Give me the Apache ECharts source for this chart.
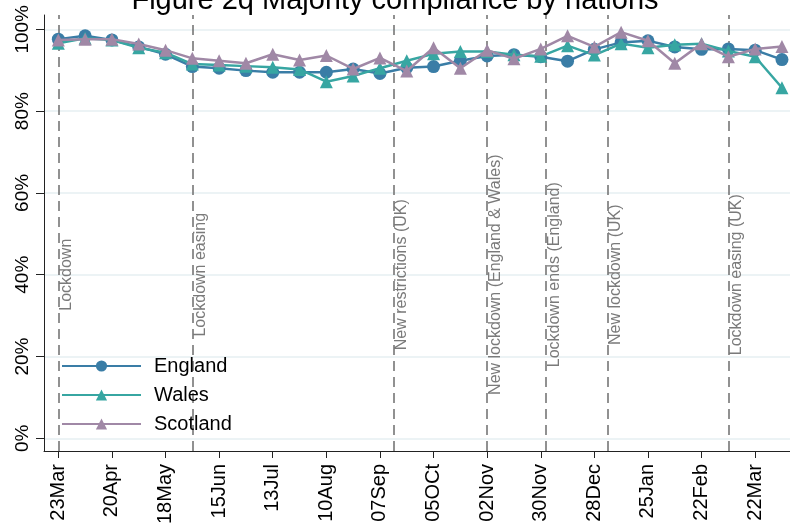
<!DOCTYPE html>
<html>
<head>
<meta charset="utf-8">
<title>Figure 2q Majority compliance by nations</title>
<script src="https://cdn.jsdelivr.net/npm/echarts@6/dist/echarts.min.js"></script>
<style>
html, body { margin: 0; padding: 0; background: #fff; }
#chart { width: 790px; height: 529px; }
</style>
</head>
<body>
<div id="chart"></div>
<script>
// x = weeks since 23 March 2020, one survey wave every two weeks
var weeks = [0, 2, 4, 6, 8, 10, 12, 14, 16, 18, 20, 22, 24, 26, 28, 30, 32, 34, 36, 38, 40, 42, 44, 46, 48, 50, 52, 54];
var england = [97.6, 98.4, 97.4, 95.7, 93.9, 90.9, 90.5, 89.9, 89.5, 89.5, 89.5, 90.3, 89.2, 90.6, 90.9, 92.3, 93.5, 93.8, 93.3, 92.2, 95.1, 96.8, 97.2, 95.7, 95.1, 95.2, 94.9, 92.6];
var wales = [96.6, 97.8, 97.4, 95.5, 94.3, 91.5, 91.3, 91.0, 90.7, 90.2, 87.2, 88.6, 90.5, 92.3, 94.0, 94.6, 94.6, 93.8, 93.4, 96.0, 93.7, 96.5, 95.5, 96.2, 96.5, 94.7, 93.3, 85.7];
var scotland = [97.4, 97.6, 97.6, 96.4, 94.9, 92.9, 92.3, 91.7, 93.9, 92.5, 93.6, 90.3, 93.0, 89.8, 95.5, 90.5, 94.9, 92.8, 95.2, 98.4, 95.7, 99.3, 97.2, 91.7, 96.5, 93.3, 95.2, 95.8];

// axis ticks
var tickWeeks = [0, 4, 8, 12, 16, 20, 24, 28, 32, 36, 40, 44, 48, 52];
var tickLabels = ['23Mar', '20Apr', '18May', '15Jun', '13Jul', '10Aug', '07Sep', '05OCt', '02Nov', '30Nov', '28Dec', '25Jan', '22Feb', '22Mar'];
var yTicks = [0, 20, 40, 60, 80, 100];

// policy events (vertical dashed lines), text centred at 40%
var eventWeeks = [0, 10, 25, 32, 36.4, 41, 50];
var eventNames = ['Lockdown', 'Lockdown easing', 'New restrictions (UK)', 'New lockdown (England & Wales)', 'Lockdown ends (England)', 'New lockdown (UK)', 'Lockdown easing (UK)'];
var eventLabelY = 40;

var font = '"Liberation Sans", Arial, sans-serif';

function pairs(ys) {
    return weeks.map(function (w, i) { return [w, ys[i]]; });
}

var chart = echarts.init(document.getElementById('chart'));

var option = {
    animation: false,
    title: {
        text: 'Figure 2q Majority compliance by nations',
        left: 'center',
        top: -19,
        textStyle: { fontFamily: font, fontSize: 29, fontWeight: 'normal', color: '#000' }
    },
    grid: { left: 44, right: 0, top: 15, bottom: 78 },
    legend: {
        orient: 'vertical',
        left: 61,
        top: 356,
        padding: 0,
        itemWidth: 79,
        itemHeight: 14,
        itemGap: 9,
        data: ['England', 'Wales', 'Scotland'],
        textStyle: { fontFamily: font, fontSize: 20, color: '#000', padding: [0, 0, 0, 8] }
    },
    xAxis: {
        type: 'value',
        min: -1.07,
        max: 54.6,
        splitLine: { show: false },
        axisLine: { onZero: false, lineStyle: { color: '#222', width: 1 } },
        axisTick: { customValues: tickWeeks, length: 7, lineStyle: { color: '#222' } },
        axisLabel: {
            customValues: tickWeeks,
            rotate: 90,
            margin: 13,
            fontFamily: font,
            fontSize: 20,
            color: '#000',
            formatter: function (v) { return tickLabels[tickWeeks.indexOf(v)]; }
        }
    },
    yAxis: {
        type: 'value',
        min: -3.1,
        max: 103.5,
        splitLine: { show: false },
        axisLine: { show: true, onZero: false, lineStyle: { color: '#222', width: 1 } },
        axisTick: { show: true, customValues: yTicks, length: 8, lineStyle: { color: '#222' } },
        axisLabel: {
            customValues: yTicks,
            rotate: 90,
            margin: 12,
            fontFamily: font,
            fontSize: 19,
            color: '#000',
            formatter: function (v) { return v + '%'; }
        }
    },
    series: [
        {
            name: 'England',
            type: 'line',
            data: pairs(england),
            symbol: 'circle',
            symbolSize: 13,
            color: '#3a7da6',
            lineStyle: { width: 2.5 },
            z: 3,
            markLine: {
                silent: true,
                z: 1,
                symbol: 'none',
                label: { show: false },
                lineStyle: { color: '#6e6e6e', type: [10, 6], width: 1.5 },
                data: eventWeeks.map(function (w) { return { xAxis: w }; })
            }
        },
        {
            name: 'Wales',
            type: 'line',
            data: pairs(wales),
            symbol: 'triangle',
            symbolSize: 13,
            color: '#37a6a2',
            lineStyle: { width: 2.5 },
            z: 4,
            markLine: {
                silent: true,
                z: 0,
                symbol: 'none',
                label: { show: false },
                lineStyle: { color: '#e6eff2', type: 'solid', width: 1.5 },
                data: yTicks.map(function (v) { return { yAxis: v }; })
            }
        },
        {
            name: 'Scotland',
            type: 'line',
            data: pairs(scotland),
            symbol: 'triangle',
            symbolSize: 13,
            color: '#a088a6',
            lineStyle: { width: 2.5 },
            z: 5,
            markPoint: {
                silent: true,
                symbol: 'circle',
                symbolSize: 1,
                itemStyle: { color: 'rgba(0,0,0,0)' },
                label: {
                    show: true,
                    position: 'inside',
                    rotate: 90,
                    align: 'center',
                    verticalAlign: 'top',
                    fontFamily: font,
                    fontSize: 16,
                    color: '#7a7a7a',
                    formatter: function (p) { return p.name; }
                },
                data: eventWeeks.map(function (w, i) {
                    return { name: eventNames[i], coord: [w, eventLabelY] };
                })
            }
        }
    ]
};

chart.setOption(option);
</script>
</body>
</html>
